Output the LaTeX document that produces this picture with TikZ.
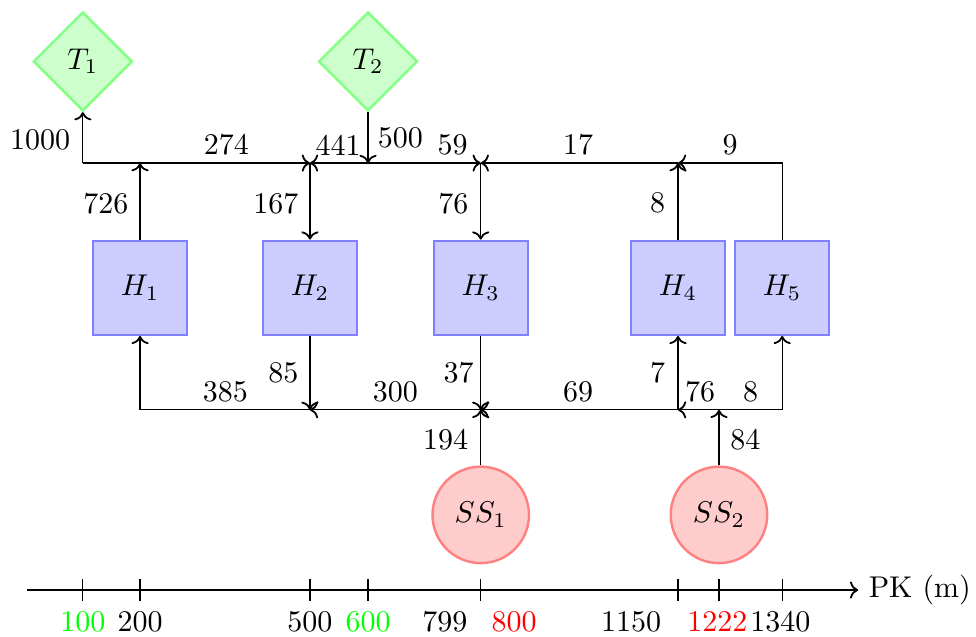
\documentclass[tikz,border=0pt]{standalone}
\usepackage{tikz}
\usetikzlibrary{shapes.geometric, arrows.meta}
\usepackage{amsmath}

\begin{document}
\begin{tikzpicture}[
        >={To[scale=1.1, line width=0.6pt]},
        tank/.style={diamond, draw=green!50, fill=green!20, thick, minimum size=1.16cm, inner sep=0pt},
        house/.style={rectangle, draw=blue!50, fill=blue!20, thick, minimum size=1.1cm},
        source/.style={circle, draw=red!50, fill=red!20, thick, minimum size=1.13cm, inner sep=0pt},
        flow/.style={inner sep=1pt},
      ]
      \useasboundingbox (0,0) rectangle (11.43,7.46);

      % Reservoirs, houses and sources
      \node[tank] (T1) at (0.97,6.74) {$T_1$};
      \node[tank] (T2) at (4.31,6.74) {$T_2$};
      \node[house] (H1) at (1.64,4.09) {$H_1$};
      \node[house] (H2) at (3.63,4.09) {$H_2$};
      \node[house] (H3) at (5.63,4.09) {$H_3$};
      \node[house] (H4) at (7.94,4.09) {$H_4$};
      \node[house] (H5) at (9.16,4.09) {$H_5$};
      \node[source] (SS1) at (5.63,1.43) {$SS_1$};
      \node[source] (SS2) at (8.42,1.43) {$SS_2$};

      % Junctions on the upper main
      \coordinate (t0) at (0.97,5.55);
      \coordinate (t1) at (1.64,5.55);
      \coordinate (t2) at (3.63,5.55);
      \coordinate (t3) at (4.31,5.55);
      \coordinate (t4) at (5.63,5.55);
      \coordinate (t5) at (7.94,5.55);
      \coordinate (t6) at (9.16,5.55);

      % Junctions on the lower main
      \coordinate (b1) at (1.64,2.66);
      \coordinate (b2) at (3.63,2.66);
      \coordinate (b3) at (5.63,2.66);
      \coordinate (b4) at (7.94,2.66);
      \coordinate (b5) at (8.42,2.66);
      \coordinate (b6) at (9.16,2.66);

      % Upper main
      \draw[->] (t0) -- (T1.south);
      \draw[->] (t0) -- (t2);
      \draw[->] (H1.north) -- (t1);
      \draw[->] (t3) -- (t2);
      \draw[->] (T2.south) -- (t3);
      \draw[->] (t2) -- (H2.north);
      \draw[->] (t3) -- (t4);
      \draw[->] (t4) -- (H3.north);
      \draw[->] (t5) -- (t4);
      \draw[->] (H4.north) -- (t5);
      \draw[->] (H5.north) -- (t6) -- (t5);

      % Lower main
      \draw[->] (b2) -- (b1) -- (H1.south);
      \draw[->] (H2.south) -- (b2);
      \draw[->] (b3) -- (b2);
      \draw[->] (H3.south) -- (b3);
      \draw[->] (SS1.north) -- (b3);
      \draw[->] (b4) -- (b3);
      \draw[->] (b4) -- (H4.south);
      \draw[->] (b5) -- (b4);
      \draw[->] (SS2.north) -- (b5);
      \draw[->] (b5) -- (b6) -- (H5.south);

      % Flow labels
      \node[flow] (f1000) at (0.47,5.82) {1000};
      \node[flow] (f274) at (2.65,5.76) {274};
      \node[flow] (f441) at (3.96,5.76) {441};
      \node[flow] (f500) at (4.69,5.85) {500};
      \node[flow] (f59) at (5.30,5.76) {59};
      \node[flow] (f17) at (6.77,5.76) {17};
      \node[flow] (f9) at (8.55,5.76) {9};
      \node[flow] (f726) at (1.24,5.08) {726};
      \node[flow] (f167) at (3.23,5.08) {167};
      \node[flow] (f76a) at (5.31,5.08) {76};
      \node[flow] (f8a) at (7.70,5.08) {8};
      \node[flow] (f385) at (2.64,2.87) {385};
      \node[flow] (f85) at (3.32,3.09) {85};
      \node[flow] (f300) at (4.63,2.87) {300};
      \node[flow] (f37) at (5.37,3.09) {37};
      \node[flow] (f69) at (6.77,2.87) {69};
      \node[flow] (f7) at (7.70,3.09) {7};
      \node[flow] (f76b) at (8.20,2.87) {76};
      \node[flow] (f8b) at (8.79,2.87) {8};
      \node[flow] (f194) at (5.22,2.31) {194};
      \node[flow] (f84) at (8.73,2.31) {84};

      % Chainage axis
      \draw[->] (0.32,0.55) -- (10.05,0.55) node[right] (pk) {PK (m)};
      \foreach \x in {0.97,1.64,3.63,4.31,5.63,7.94,8.42,9.16}
        \draw (\x,0.42) -- (\x,0.68);

      % Chainage labels
      \node[text=green] (k100) at (0.97,0.18) {100};
      \node (k200) at (1.64,0.18) {200};
      \node (k500) at (3.63,0.18) {500};
      \node[text=green] (k600) at (4.31,0.18) {600};
      \node (k799) at (5.21,0.18) {799};
      \node[text=red] (k800) at (6.02,0.18) {800};
      \node (k1150) at (7.39,0.18) {1150};
      \node[text=red] (k1222) at (8.40,0.18) {1222};
      \node (k1340) at (9.14,0.18) {1340};
    \end{tikzpicture}
\end{document}
